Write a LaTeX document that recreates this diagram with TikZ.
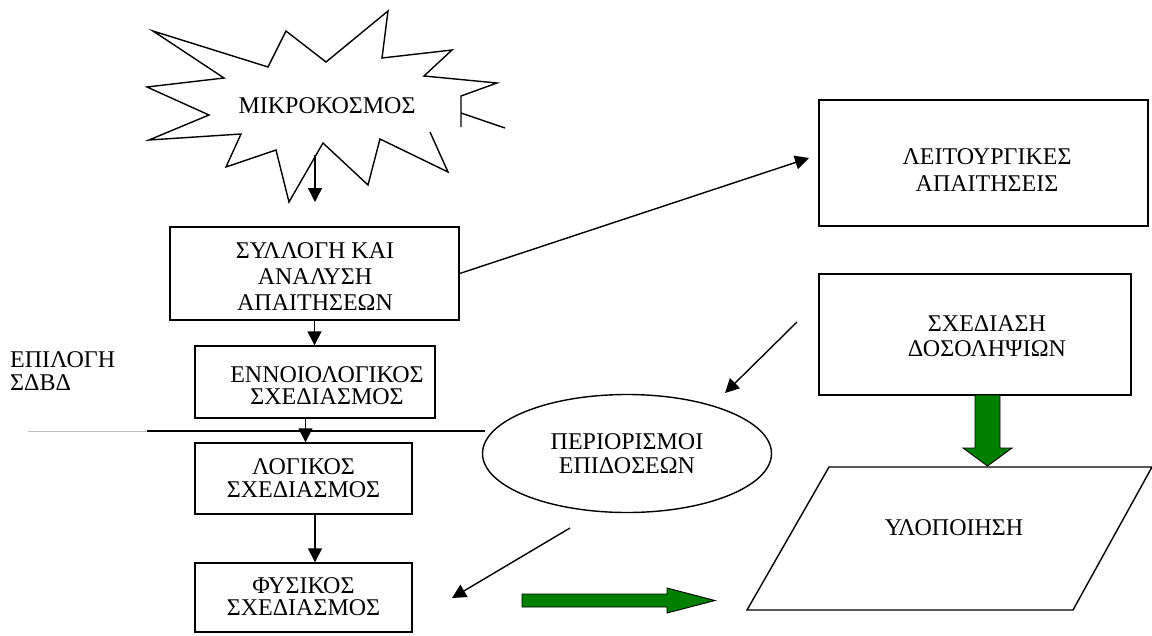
\documentclass[tikz,border=0pt]{standalone}
\usepackage{fontspec}
\setmainfont{Liberation Serif}
\usetikzlibrary{arrows.meta,shapes.geometric}
\definecolor{dgreen}{RGB}{0,128,0}

\begin{document}
\begin{tikzpicture}[x=1pt,y=-1pt,
  txt/.style={font=\fontsize{24}{#1}\selectfont, align=center, inner sep=0pt},
  txt/.default=24,
  box/.style={draw, line width=1.4pt, rectangle, inner sep=0pt},
  arr/.style={line width=1.4pt, -{Triangle[width=14pt,length=14pt]}},
  fat/.style={draw=black, line width=0.9pt, fill=dgreen, line join=miter},
  burst/.style={line width=1.4pt, line join=miter}
]
\useasboundingbox (0,0) rectangle (1152,635);

% explosion outline
\draw[burst]
  (430,132) -- (448,172) -- (380,139) -- (368,185) -- (323,143) -- (289,202)
  -- (276,150) -- (226,167) -- (241,134) -- (149,140) -- (209,115)
  -- (147,87) -- (224,78) -- (153,31) -- (268,67) -- (286,31) -- (326,62)
  -- (388,11) -- (382,58) -- (452,50) -- (424,76) -- (497,83) -- (461,96)
  -- (461,127);
\draw[burst] (461,113) -- (505,128);
\node[txt] (star) at (327,106) {ΜΙΚΡΟΚΟΣΜΟΣ};
\coordinate (starfoot) at (315,155);
\coordinate (starend) at (315,202);

% left column of boxes
\node[box, minimum width=289pt, minimum height=93pt] (b1) at (314.5,273.5) {};
\node[txt=26] (t1) at (315,277) {ΣΥΛΛΟΓΗ ΚΑΙ\\ΑΝΑΛΥΣΗ\\ΑΠΑΙΤΗΣΕΩΝ};

\node[box, minimum width=240pt, minimum height=72pt] (b2) at (315,382) {};
\node[txt=22] (t2) at (327,386) {ΕΝΝΟΙΟΛΟΓΙΚΟΣ\\ΣΧΕΔΙΑΣΜΟΣ};

\node[box, minimum width=217pt, minimum height=71pt] (b3) at (303.5,478.5) {};
\node[txt=23] (t3) at (303.5,478.5) {ΛΟΓΙΚΟΣ\\ΣΧΕΔΙΑΣΜΟΣ};

\node[box, minimum width=217pt, minimum height=69pt] (b4) at (303.5,597.5) {};
\node[txt=22] (t4) at (303.5,597) {ΦΥΣΙΚΟΣ\\ΣΧΕΔΙΑΣΜΟΣ};

% side label and divider
\node[txt=23, align=left, anchor=west] (sel) at (10,371) {ΕΠΙΛΟΓΗ\\ΣΔΒΔ};
\coordinate (divL) at (28,431);
\coordinate (divM) at (147,431);
\coordinate (divR) at (485,431);
\draw[black!25, line width=0.8pt] (divL) -- (divM);
\draw[line width=1.4pt] (divM) -- (divR);

% right column
\node[box, minimum width=329pt, minimum height=126pt] (fr) at (983.5,163) {};
\node[txt=27] (tfr) at (987,170) {ΛΕΙΤΟΥΡΓΙΚΕΣ\\ΑΠΑΙΤΗΣΕΙΣ};

\node[box, minimum width=312pt, minimum height=121pt] (tr) at (975,334.5) {};
\node[txt=25] (ttr) at (987,336) {ΣΧΕΔΙΑΣΗ\\ΔΟΣΟΛΗΨΙΩΝ};

\node[draw, line width=1.4pt, ellipse, minimum width=289pt, minimum height=118pt,
      inner sep=0pt] (pc) at (627,453.5) {};
\node[txt=24] (tpc) at (627,454) {ΠΕΡΙΟΡΙΣΜΟΙ\\ΕΠΙΔΟΣΕΩΝ};

\coordinate (p1) at (829,467);
\coordinate (p2) at (1152,467);
\coordinate (p3) at (1073,610);
\coordinate (p4) at (747,610);
\draw[line width=1.4pt, line join=miter] (p1) -- (p2) -- (p3) -- (p4) -- cycle;
\node[txt] (impl) at (954,528) {ΥΛΟΠΟΙΗΣΗ};

% thin connectors
\draw[arr] (starfoot) -- (starend);
\draw[arr] (b1.south) -- (b1.south |- b2.north);
\coordinate (c23) at (305.5,418);
\draw[arr] (c23) -- (c23 |- b3.north);
\coordinate (c34) at (315,514);
\draw[arr] (c34) -- (c34 |- b4.north);

\coordinate (frtip) at (809,158);
\draw[arr] (b1.east) -- (frtip);
\coordinate (trtail) at (797,322);
\coordinate (pctip) at (725,393);
\draw[arr] (trtail) -- (pctip);
\coordinate (pctail) at (570,528);
\coordinate (b4tip) at (452,598);
\draw[arr] (pctail) -- (b4tip);

% block arrows
\draw[fat] (975,395) -- (1000,395) -- (1000,448) -- (1012,448) -- (987.5,466)
  -- (963,448) -- (975,448) -- cycle;
\draw[fat] (522,594) -- (667,594) -- (667,588) -- (715,600.5) -- (667,613)
  -- (667,607) -- (522,607) -- cycle;
\end{tikzpicture}
\end{document}
